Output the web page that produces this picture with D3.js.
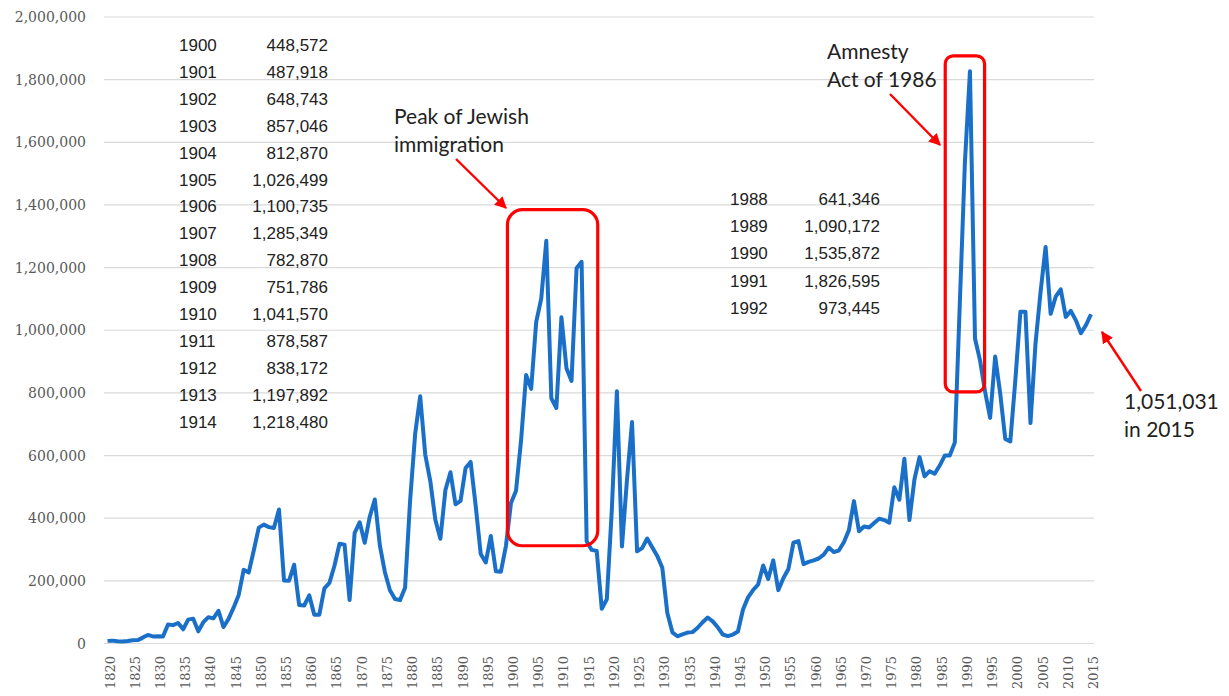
<!DOCTYPE html>
<html>
<head>
<meta charset="utf-8">
<script src="https://cdn.jsdelivr.net/npm/d3@7"></script>
<style>
  body { margin: 0; background: #fff; }
  svg { display: block; }
</style>
</head>
<body>
<div class="container"></div>
<script>
const width = 1229;
const height = 696;

// US immigration (legal permanent residents), 1820-2015
const years = d3.range(1820, 2016);
const immigrants = [
  8385, 9127, 6911, 6354, 7912, 10199, 10837, 18875, 27382, 22520,
  23322, 22633, 60482, 58640, 65365, 45374, 76242, 79340, 38914, 68069,
  84066, 80289, 104565, 52496, 78615, 114371, 154416, 234968, 226527, 297024,
  369980, 379466, 371603, 368645, 427833, 200877, 200436, 251306, 123126, 121282,
  153640, 91918, 91985, 176282, 193418, 248120, 318568, 315722, 138840, 352768,
  387203, 321350, 404806, 459803, 313339, 227498, 169986, 141857, 138469, 177826,
  457257, 669431, 788992, 603322, 518592, 395346, 334203, 490109, 546889, 444427,
  455302, 560319, 579663, 439730, 285631, 258536, 343267, 230832, 229299, 311715,
  448572, 487918, 648743, 857046, 812870, 1026499, 1100735, 1285349, 782870, 751786,
  1041570, 878587, 838172, 1197892, 1218480, 326700, 298826, 295403, 110618, 141132,
  430001, 805228, 309556, 522919, 706896, 294314, 304488, 335175, 307255, 279678,
  241700, 97139, 35576, 23068, 29470, 34956, 36329, 50244, 67895, 82998,
  70756, 51776, 28781, 23725, 28551, 38119, 108721, 147292, 170570, 188317,
  249187, 205717, 265520, 170434, 208177, 237790, 321625, 326867, 253265, 260686,
  265398, 271344, 283763, 306260, 292248, 296697, 323040, 361972, 454448, 358579,
  373326, 370478, 384685, 398515, 393919, 385378, 499093, 458755, 589810, 394244,
  524295, 595014, 533624, 550052, 541811, 568149, 600027, 599889, 641346, 1090172,
  1535872, 1826595, 973445, 903916, 803993, 720177, 915887, 797847, 653206, 644787,
  841002, 1058902, 1059356, 703542, 957883, 1122257, 1266129, 1052415, 1107126, 1130818,
  1042625, 1062040, 1031631, 990553, 1016518, 1051031
];

const yTicks = d3.range(0, 2000001, 200000);
const xTicks = d3.range(1820, 2016, 5);

const table1Years = d3.range(1900, 1915);
const table2Years = d3.range(1988, 1993);

const data = years.map((y, i) => ({ year: y, value: immigrants[i] }));

const x = d3.scaleLinear().domain([1820, 2015]).range([107.5, 1091]);
const y = d3.scaleLinear().domain([0, 2000000]).range([643.5, 17]);

const svg = d3.select(".container").append("svg")
  .attr("width", width)
  .attr("height", height);

// grid lines
svg.append("g")
  .selectAll("line")
  .data(yTicks)
  .join("line")
    .attr("x1", 104).attr("x2", 1094)
    .attr("y1", d => y(d)).attr("y2", d => y(d))
    .attr("stroke", "#d9d9d9")
    .attr("stroke-width", 1.2);

const fmt = d3.format(",");

// y axis labels
svg.append("g")
  .style("font-family", "'DejaVu Serif', serif")
  .style("font-size", "14px")
  .attr("fill", "#595959")
  .attr("text-anchor", "end")
  .selectAll("text")
  .data(yTicks)
  .join("text")
    .attr("x", 86)
    .attr("y", d => y(d) + 5)
    .text(d => fmt(d));

// x axis labels (rotated)
svg.append("g")
  .style("font-family", "'DejaVu Serif', serif")
  .style("font-size", "13px")
  .attr("fill", "#595959")
  .attr("text-anchor", "end")
  .selectAll("text")
  .data(xTicks)
  .join("text")
    .attr("transform", d => `translate(${x(d) + 7},656) rotate(-90)`)
    .text(d => d);

// data line
const line = d3.line().x(d => x(d.year)).y(d => y(d.value));
svg.append("path")
  .datum(data)
  .attr("fill", "none")
  .attr("stroke", "#1a70c8")
  .attr("stroke-width", 4)
  .attr("stroke-linejoin", "round")
  .attr("d", line);

// value tables
const byYear = new Map(data.map(d => [d.year, d.value]));
function table(list, xYear, xVal, y0, step) {
  const g = svg.append("g")
    .style("font", "17px 'Liberation Sans', Arial, sans-serif")
    .attr("fill", "#222");
  g.selectAll("text.yr")
    .data(list)
    .join("text")
      .attr("class", "yr")
      .attr("x", xYear)
      .attr("y", (d, i) => y0 + i * step)
      .text(d => d);
  g.selectAll("text.val")
    .data(list)
    .join("text")
      .attr("class", "val")
      .attr("x", xVal)
      .attr("y", (d, i) => y0 + i * step)
      .attr("text-anchor", "end")
      .text(d => fmt(byYear.get(d)));
}
table(table1Years, 179, 328, 51, 26.9);
table(table2Years, 730, 880, 205, 27.2);

// annotations
const red = "#ff0000";
svg.append("defs").append("marker")
  .attr("id", "head")
  .attr("viewBox", "0 0 10 10")
  .attr("refX", 9).attr("refY", 5)
  .attr("markerWidth", 5).attr("markerHeight", 5)
  .attr("markerUnits", "strokeWidth")
  .attr("orient", "auto")
  .append("path")
    .attr("d", "M0,0 L10,5 L0,10 z")
    .attr("fill", red);

function box(y1, y2, v1, v2, r) {
  svg.append("rect")
    .attr("x", x(y1)).attr("y", y(v2))
    .attr("width", x(y2) - x(y1))
    .attr("height", y(v1) - y(v2))
    .attr("rx", r).attr("ry", r)
    .attr("fill", "none")
    .attr("stroke", red)
    .attr("stroke-width", 3.2);
}
box(1899.3, 1917.2, 312000, 1385000, 15);
box(1986.1, 1993.9, 803000, 1876000, 8);

function arrow(x1, y1, x2, y2) {
  svg.append("line")
    .attr("x1", x1).attr("y1", y1).attr("x2", x2).attr("y2", y2)
    .attr("stroke", red)
    .attr("stroke-width", 2.4)
    .attr("marker-end", "url(#head)");
}
arrow(456, 159, 506, 208);
arrow(890, 94, 940, 145);
arrow(1141, 391, 1102, 332);

function note(lines, x0, y0) {
  svg.append("g")
    .style("font", "21px Lato, 'Open Sans', sans-serif")
    .attr("fill", "#222")
    .selectAll("text")
    .data(lines)
    .join("text")
      .attr("x", x0)
      .attr("y", (d, i) => y0 + i * 28)
      .text(d => d);
}
note(["Peak of Jewish", "immigration"], 394, 124);
note(["Amnesty", "Act of 1986"], 827, 59);
note(["1,051,031", "in 2015"], 1124, 409);
</script>
</body>
</html>
